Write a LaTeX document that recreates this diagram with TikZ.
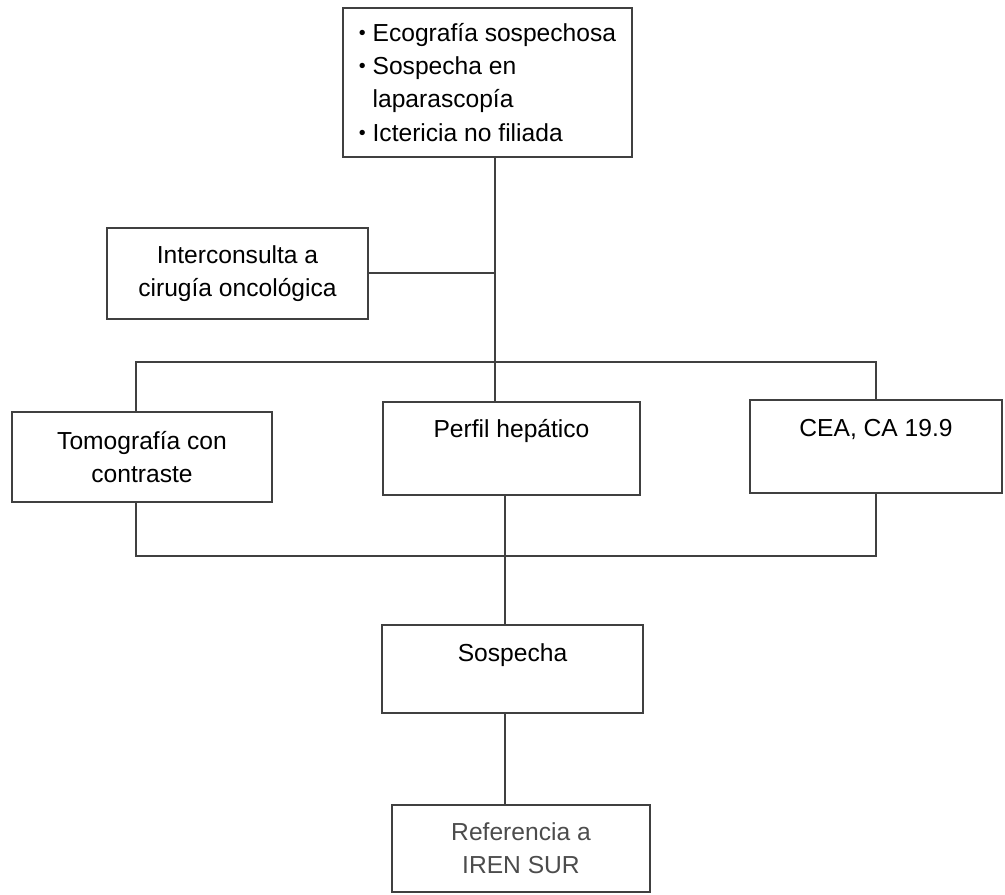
\documentclass[tikz,border=0pt]{standalone}
\usepackage{fontspec}
\setmainfont{Liberation Sans}
\usetikzlibrary{calc,positioning}

\newcommand{\punto}{\raisebox{0.15ex}{\scalebox{0.8}{\textbullet}}\ }

\begin{document}
\begin{tikzpicture}[x=0.025cm,y=-0.025cm,
  caja/.style={rectangle,draw=black!75,line width=1.1pt,inner sep=0pt,font=\fontsize{17.5}{23.5}\selectfont},
  linea/.style={draw=black!75,line width=1.1pt}]
\useasboundingbox (0,0) rectangle (1005,894);

\node[caja,align=left,minimum width=7.225cm,minimum height=3.725cm] (arriba) at (487.5,82.5)
  {\punto Ecografía sospechosa\\\punto Sospecha en\\\phantom{\punto}laparascopía\\\punto Ictericia no filiada};
\node[caja,align=center,minimum width=6.525cm,minimum height=2.275cm] (inter) at (237.5,273.5) {Interconsulta a\\cirugía oncológica};

\node[caja,align=center,minimum width=6.5cm,minimum height=2.25cm] (tomo) at (142,457) {Tomografía con\\contraste};
\node[caja,minimum width=6.425cm,text height=0.875cm,text depth=1.45cm,anchor=base] (perfil) at (511.5,437) {Perfil hepático};
\node[caja,minimum width=6.3cm,text height=0.9cm,text depth=1.425cm,anchor=base] (cea) at (876,436) {CEA, CA 19.9};

\node[caja,minimum width=6.525cm,text height=0.9cm,text depth=1.3cm,anchor=base] (sosp) at (512.5,661) {Sospecha};
\node[caja,align=center,minimum width=6.45cm,minimum height=2.175cm,text=black!70] (refer) at (521,848.5) {Referencia a\\IREN SUR};

% puntos de union
\coordinate (c1) at (495,273);
\coordinate (bl) at (136,362);
\coordinate (b1) at (495,362);
\coordinate (br) at (876,362);
\coordinate (cl) at (136,556);
\coordinate (b2) at (505,556);
\coordinate (cr) at (876,556);

\draw[linea] (arriba.south -| c1) -- (b1);
\draw[linea] (inter.east |- c1) -- (c1);
\draw[linea] (tomo.north -| bl) -- (bl) -- (br) -- (cea.north -| br);
\draw[linea] (b1) -- (perfil.north -| b1);
\draw[linea] (tomo.south -| cl) -- (cl) -- (cr) -- (cea.south -| cr);
\draw[linea] (perfil.south -| b2) -- (sosp.north -| b2);
\draw[linea] (sosp.south -| b2) -- (refer.north -| b2);

\end{tikzpicture}
\end{document}
